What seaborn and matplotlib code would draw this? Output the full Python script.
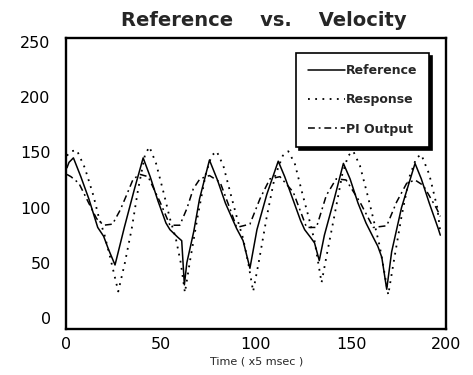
import matplotlib
matplotlib.use("Agg")
import matplotlib.pyplot as plt
import seaborn as sns
import pandas as pd

# ---- data ----
ref_t = [0.5, 1.6, 3.9, 7.8, 12, 16.7, 19.8, 22.4, 25.8, 30.7, 35.9, 40.6, 44.3, 48.4, 52.6, 54.7,
         58.9, 60.9, 62.3, 63.6, 67.2, 70.3, 75.5, 79.7, 83.9, 89.8, 93.2, 96.8, 100.5, 105.7,
         111.7, 115.1, 119.3, 123.5, 125.6, 128.7, 130.8, 133.3, 136, 141.2, 146, 149.5, 153.7,
         157.9, 161.7, 164.1, 166.2, 168.8, 171.4, 176.6, 183.7, 187, 191.2, 195.9, 197]
ref_v = [136, 141, 145, 128, 108, 82, 74, 62, 48, 82, 116, 145, 128, 106, 86, 80, 73, 70, 30,
         50, 78, 108, 143, 125, 104, 81, 70, 45, 80, 112, 142, 128, 108, 88, 80, 73,
         68, 52, 75, 108, 140, 126, 104, 86, 73, 65, 55, 26, 60, 100, 140,
         126, 104, 81, 75]

resp_t = [0.5, 2.6, 5.7, 9.9, 14.4, 17, 20.3, 23.1, 27.5, 31, 34.6, 38, 41.6, 43.9, 47.4, 51.6,
          54.7, 57.8, 60.4, 62.6, 65.1, 69.3, 73.5, 76.6, 79.3, 82.8, 87, 90.1, 93.2, 95.9, 98.5,
          101.6, 105.7, 109.9, 114.1, 117, 120.4, 124.5, 127.6, 130.8, 134.5, 137, 141.2, 145.4,
          148.5, 151.2, 154.7, 158.9, 162, 165.1, 167.2, 169.6, 172.4, 176.6, 180.8, 184.4, 187,
          191.2, 195.4, 197]
resp_v = [147, 151, 152, 136, 111, 93, 75, 56, 24, 50, 81, 117, 148, 155, 140, 112, 90, 72,
          50, 23, 50, 92, 130, 147, 151, 138, 110, 90, 72, 50, 24, 52, 92, 128, 147, 151,
          140, 112, 92, 70, 32, 55, 92, 130, 147, 151, 138, 110, 88, 65, 45, 21,
          50, 92, 128, 145, 148, 130, 100, 78]

pi_t = [0.5, 2.6, 6.8, 12, 16.1, 19.8, 24.5, 28.6, 31.8, 35.4, 39.1, 43.2, 49.5, 54.7, 59.9,
        63.6, 67, 70.5, 75.5, 81.1, 86.3, 89.8, 96.8, 102.1, 107.3, 112.6, 119.6, 126.6,
        131.8, 137, 142.2, 147.4, 154.7, 161.7, 168.8, 174, 179.3, 183.7, 188.1, 195.1, 197]
pi_v = [130, 128, 122, 104, 90, 84, 85, 98, 111, 126, 130, 128, 105, 84, 84, 99, 117, 126, 129,
        123, 99, 82, 85, 108, 126, 128, 114, 82, 82, 111, 126, 125, 105,
        82, 83.5, 105, 122, 125, 120, 99, 92]

series_names = ["Reference", "Response", "PI Output"]
x_ticks = [0, 50, 100, 150, 200]
y_ticks = [0, 50, 100, 150, 200, 250]

# ---- figure ----
sns.set_style("white")
plt.rcParams['font.family'] = ['DejaVu Sans']

fig = plt.figure(figsize=(4.73, 3.75), dpi=100)
L, R, T, B = 66, 446, 38, 329
ax = fig.add_axes([L/473, 1-B/375, (R-L)/473, (B-T)/375])

styles = {
    "Reference": dict(linestyle='-', linewidth=1.1),
    "Response": dict(linestyle=(0, (1, 3)), linewidth=1.3),
    "PI Output": dict(linestyle=(0, (4.5, 2.5, 1.2, 2.5)), linewidth=1.1),
}
data = {
    "Reference": (ref_t, ref_v),
    "Response": (resp_t, resp_v),
    "PI Output": (pi_t, pi_v),
}
for name in series_names:
    t, v = data[name]
    df = pd.DataFrame({"t": t, "v": v})
    sns.lineplot(data=df, x="t", y="v", ax=ax, color='black', label=name,
                 estimator=None, sort=False, **styles[name])

ax.set_xlim(0, 200)
ax.set_ylim(-10, 253.6)

ax.set_xticks(x_ticks)
ax.set_xticklabels([str(t) for t in x_ticks])
ax.set_yticks(y_ticks)
ax.set_yticklabels([str(t) for t in y_ticks])
ax.tick_params(axis='both', length=0, labelsize=11.5, colors='black')
ax.tick_params(axis='x', pad=6)
ax.tick_params(axis='y', pad=11)

for s in ax.spines.values():
    s.set_visible(True)
    s.set_color('black')
    s.set_linewidth(1.7)

ax.set_xlabel("Time ( x5 msec )", fontsize=8)
ax.xaxis.set_label_coords((257-L)/(R-L), (B-356)/(B-T))
ax.set_ylabel("")
ax.set_title("Reference    vs.    Velocity", fontsize=14, fontweight='bold',
             x=(263.5-L)/(R-L), pad=9)

leg = ax.legend(loc='upper right', bbox_to_anchor=((429-L)/(R-L), (B-53)/(B-T)), fontsize=9,
                frameon=True, fancybox=False, shadow={'color': 'black', 'alpha': 1},
                edgecolor='black', framealpha=1, handlelength=3.0, handletextpad=0.1,
                labelspacing=1.3, borderpad=0.9, borderaxespad=0)
leg.get_frame().set_linewidth(1.2)
for txt in leg.get_texts():
    txt.set_fontweight('bold')

fig.savefig("out.png", dpi=100)
